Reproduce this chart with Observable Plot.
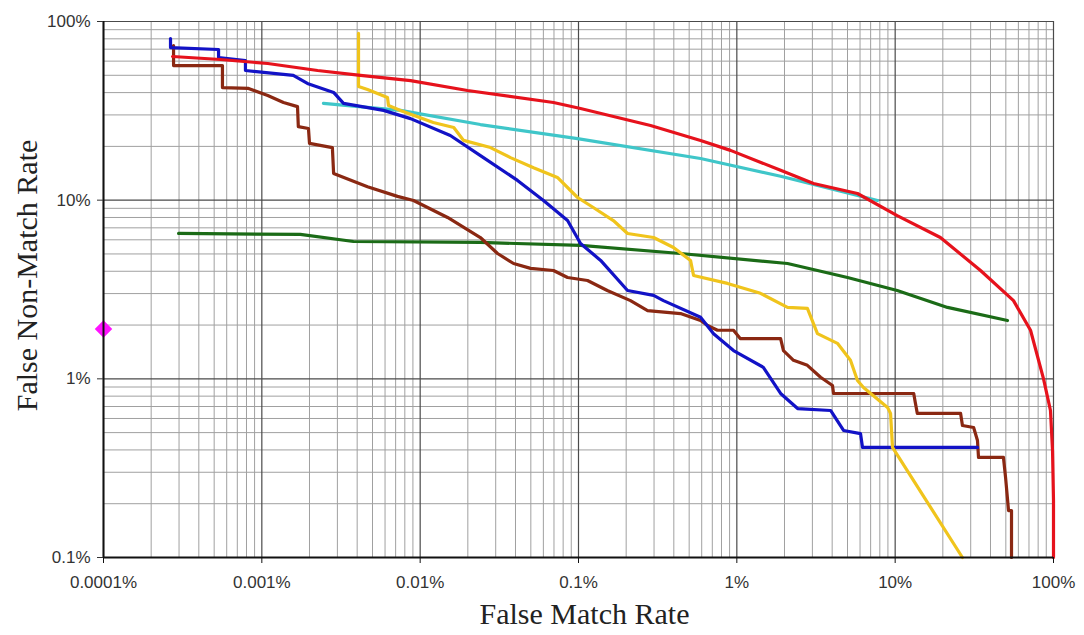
<!DOCTYPE html>
<html><head><meta charset="utf-8">
<script src="https://cdn.jsdelivr.net/npm/d3@7"></script>
<script src="https://cdn.jsdelivr.net/npm/@observablehq/plot@0.6"></script>
<style>body{margin:0;background:#fff} #chart svg{display:block}</style>
</head><body><div id="chart"></div>
<script>
// Axis ticks (percent)
const xTicks = [0.0001, 0.001, 0.01, 0.1, 1, 10, 100];
const xTickLabels = ["0.0001%", "0.001%", "0.01%", "0.1%", "1%", "10%", "100%"];
const yTicks = [0.1, 1, 10, 100];
const yTickLabels = ["0.1%", "1%", "10%", "100%"];
const xTitle = "False Match Rate";
const yTitle = "False Non-Match Rate";

// Series values: False Match Rate (%) and False Non-Match Rate (%)
const redFMR = [0.000273, 0.000548, 0.00109, 0.00225, 0.0042, 0.0087, 0.0199, 0.0695, 0.103, 0.285, 0.590, 0.912, 1.89, 3.05, 5.78, 10.3, 19.3, 34.6, 55.9, 71.6, 86.5, 95.7, 98.6, 100, 100];
const redFNMR = [63.7, 61.3, 58.2, 53.2, 49.9, 46.7, 41.1, 35.2, 32.6, 26.2, 21.6, 19.0, 14.7, 12.4, 10.9, 8.20, 6.18, 4.04, 2.74, 1.87, 1.00, 0.665, 0.397, 0.208, 0.1];

const blueFMR = [0.000265, 0.000265, 0.000533, 0.000533, 0.000788, 0.000788, 0.00158, 0.00194, 0.00284, 0.00328, 0.00587, 0.00869, 0.0155, 0.0251, 0.0412, 0.0601, 0.0853, 0.103, 0.138, 0.204, 0.298, 0.344, 0.590, 0.713, 0.953, 1.47, 1.89, 2.42, 3.91, 4.72, 6.04, 6.22, 33.1];
const blueFNMR = [80.3, 71.5, 69.7, 62.9, 60.5, 53.2, 49.9, 45.0, 40.1, 34.8, 31.8, 28.6, 23.0, 17.3, 12.9, 9.96, 7.69, 5.72, 4.60, 3.12, 2.93, 2.74, 2.21, 1.79, 1.44, 1.16, 0.828, 0.682, 0.665, 0.514, 0.494, 0.413, 0.413];

const brownFMR = [0.000277, 0.000277, 0.000564, 0.000564, 0.000824, 0.00109, 0.00137, 0.00168, 0.00170, 0.00197, 0.00200, 0.00279, 0.00284, 0.00465, 0.00719, 0.00908, 0.0149, 0.0240, 0.0308, 0.0389, 0.0498, 0.0695, 0.0853, 0.114, 0.152, 0.213, 0.273, 0.441, 0.590, 0.653, 0.755, 0.953, 1.05, 1.89, 1.97, 2.28, 2.79, 3.38, 4.02, 4.08, 13.1, 13.4, 13.8, 25.9, 26.6, 31.3, 33.1, 33.6, 48.3, 49.8, 52.0, 54.3, 54.3];
const brownFNMR = [73.4, 56.7, 56.7, 42.7, 42.2, 38.5, 35.2, 33.4, 25.8, 25.2, 20.8, 19.7, 14.1, 11.9, 10.5, 9.96, 8.00, 6.18, 5.03, 4.42, 4.15, 4.04, 3.69, 3.55, 3.12, 2.74, 2.41, 2.32, 2.12, 1.99, 1.87, 1.87, 1.68, 1.68, 1.44, 1.27, 1.19, 1.02, 0.918, 0.828, 0.828, 0.738, 0.640, 0.640, 0.548, 0.534, 0.452, 0.363, 0.363, 0.281, 0.183, 0.183, 0.1];

const yellowFMR = [0.00408, 0.00408, 0.00465, 0.00622, 0.00631, 0.00751, 0.0121, 0.0163, 0.0188, 0.0278, 0.0372, 0.0520, 0.0736, 0.0986, 0.124, 0.166, 0.204, 0.298, 0.398, 0.510, 0.533, 0.873, 1.41, 2.09, 2.79, 3.23, 4.32, 5.22, 5.78, 6.31, 8.95, 9.35, 9.62, 26.6];
const yellowFNMR = [85.7, 43.3, 41.6, 37.5, 33.9, 31.8, 27.2, 25.5, 21.6, 19.7, 17.3, 15.2, 13.4, 10.35, 9.10, 7.69, 6.51, 6.18, 5.43, 4.60, 3.79, 3.42, 3.01, 2.51, 2.48, 1.79, 1.58, 1.27, 0.979, 0.894, 0.692, 0.640, 0.413, 0.1];

const cyanFMR = [0.00245, 0.00751, 0.0240, 0.0986, 0.590, 1.89, 3.91, 7.74];
const cyanFNMR = [34.8, 31.8, 26.5, 22.1, 17.1, 13.6, 11.6, 9.96];

const greenFMR = [0.000298, 0.00175, 0.00379, 0.0240, 0.103, 0.441, 2.09, 5.00, 10.3, 21.4, 51.2];
const greenFNMR = [6.51, 6.43, 5.87, 5.80, 5.58, 5.03, 4.42, 3.69, 3.12, 2.51, 2.12];

const pointFMR = [0.0001];
const pointFNMR = [1.9];

// Build tables
const series = [
  {name: "green", color: "#1b6b17", fmr: greenFMR, fnmr: greenFNMR},
  {name: "cyan", color: "#3fc6c9", fmr: cyanFMR, fnmr: cyanFNMR},
  {name: "brown", color: "#8a2812", fmr: brownFMR, fnmr: brownFNMR},
  {name: "blue", color: "#1212c6", fmr: blueFMR, fnmr: blueFNMR},
  {name: "yellow", color: "#f0c41c", fmr: yellowFMR, fnmr: yellowFNMR},
  {name: "red", color: "#e6121c", fmr: redFMR, fnmr: redFNMR}
];
const rows = s => s.fmr.map((x, i) => ({x, y: s.fnmr[i]}));
const points = pointFMR.map((x, i) => ({x, y: pointFNMR[i]}));

// minor gridline positions (2..9 within each decade)
const minorOf = ticks => ticks.slice(0, -1).flatMap(d => [2,3,4,5,6,7,8,9].map(k => d * k));
const xMinor = minorOf(xTicks);
const yMinor = minorOf(yTicks);

const chart = Plot.plot({
  width: 1084,
  height: 635,
  marginLeft: 103,
  marginRight: 31,
  marginTop: 21,
  marginBottom: 78,
  style: {background: "#fff"},
  x: {type: "log", domain: [0.0001, 100]},
  y: {type: "log", domain: [0.1, 100]},
  marks: [
    Plot.ruleX(xMinor, {stroke: "#a0a0a0", strokeWidth: 1}),
    Plot.ruleY(yMinor, {stroke: "#a0a0a0", strokeWidth: 1}),
    Plot.ruleX(xTicks, {stroke: "#4a4a4a", strokeWidth: 1.2}),
    Plot.ruleY(yTicks, {stroke: "#4a4a4a", strokeWidth: 1.2}),
    ...series.map(s => Plot.line(rows(s), {x: "x", y: "y", stroke: s.color, strokeWidth: 3.2, strokeLinejoin: "round"})),
    Plot.dot(points, {x: "x", y: "y", symbol: "square", rotate: 45, r: 7, fill: "#ff12ff", stroke: "none"}),
    Plot.ruleY([0.1], {stroke: "#111", strokeWidth: 2}),
    Plot.ruleX([0.0001], {stroke: "#111", strokeWidth: 2}),
    Plot.axisX({ticks: xTicks, tickFormat: d => xTickLabels[xTicks.indexOf(d)], tickSize: 6, tickPadding: 12, fontSize: 17, fontFamily: "Arial, 'Liberation Sans', sans-serif", color: "#333", label: null, stroke: "#111"}),
    Plot.axisY({ticks: yTicks, tickFormat: d => yTickLabels[yTicks.indexOf(d)], tickSize: 6, tickPadding: 7, fontSize: 17, fontFamily: "Arial, 'Liberation Sans', sans-serif", color: "#333", label: null}),
    Plot.text([xTitle], {frameAnchor: "bottom", dx: 6, dy: 66, fontSize: 30, fontFamily: "'Liberation Serif', 'Times New Roman', serif", fill: "#222"}),
    Plot.text([yTitle], {frameAnchor: "left", textAnchor: "middle", dx: -76, dy: -14, rotate: -90, fontSize: 30, fontFamily: "'Liberation Serif', 'Times New Roman', serif", fill: "#222"})
  ]
});
document.getElementById("chart").appendChild(chart);
</script>
</body></html>
